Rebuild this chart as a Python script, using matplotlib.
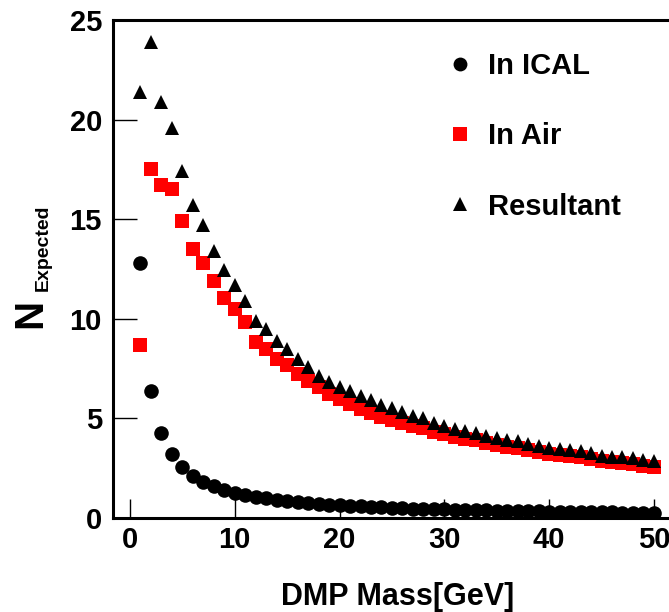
import matplotlib
matplotlib.use("Agg")
import matplotlib.pyplot as plt

plt.rcParams['font.family'] = ['Liberation Sans', 'DejaVu Sans']
plt.rcParams['font.weight'] = 'bold'

mass = [1, 2, 3, 4, 5, 6, 7, 8, 9, 10,
        11, 12, 13, 14, 15, 16, 17, 18, 19, 20,
        21, 22, 23, 24, 25, 26, 27, 28, 29, 30,
        31, 32, 33, 34, 35, 36, 37, 38, 39, 40,
        41, 42, 43, 44, 45, 46, 47, 48, 49, 50]

in_ical = [12.8, 6.4, 4.27, 3.2, 2.56, 2.13, 1.83, 1.6, 1.42, 1.28,
           1.16, 1.07, 0.98, 0.91, 0.85, 0.8, 0.75, 0.71, 0.67, 0.64,
           0.61, 0.58, 0.56, 0.53, 0.51, 0.49, 0.47, 0.46, 0.44, 0.43,
           0.41, 0.4, 0.39, 0.38, 0.37, 0.36, 0.35, 0.34, 0.33, 0.32,
           0.31, 0.3, 0.3, 0.29, 0.28, 0.28, 0.27, 0.27, 0.26, 0.26]

in_air = [8.7, 17.5, 16.7, 16.5, 14.9, 13.5, 12.8, 11.9, 11.05, 10.5,
          9.85, 8.85, 8.5, 8.0, 7.7, 7.25, 6.9, 6.6, 6.25, 5.95,
          5.7, 5.45, 5.25, 5.05, 4.9, 4.75, 4.6, 4.5, 4.3, 4.2,
          4.05, 3.95, 3.9, 3.75, 3.65, 3.55, 3.5, 3.4, 3.3, 3.2,
          3.15, 3.1, 3.05, 2.95, 2.85, 2.8, 2.75, 2.7, 2.62, 2.55]

resultant = [21.4, 23.9, 20.9, 19.6, 17.4, 15.7, 14.7, 13.4, 12.45, 11.7,
             10.9, 9.9, 9.5, 8.9, 8.5, 8.0, 7.6, 7.15, 6.85, 6.6,
             6.4, 6.1, 5.9, 5.65, 5.5, 5.3, 5.1, 5.0, 4.75, 4.62,
             4.45, 4.35, 4.28, 4.13, 4.02, 3.92, 3.86, 3.72, 3.62, 3.53,
             3.46, 3.41, 3.36, 3.26, 3.13, 3.08, 3.04, 2.99, 2.92, 2.88]

x_ticks = [0, 10, 20, 30, 40, 50]
y_ticks = [0, 5, 10, 15, 20, 25]
labels = ["In ICAL", "In Air", "Resultant"]

W, H = 669, 612
fig = plt.figure(figsize=(W / 100, H / 100), dpi=100)
ax = fig.add_axes([113 / W, 94 / H, 565 / W, 498 / H])

ax.plot(mass, in_ical, linestyle='none', marker='o', markersize=10.5,
        color='black', markeredgewidth=0, label=labels[0])
ax.plot(mass, in_air, linestyle='none', marker='s', markersize=10.0,
        color='#ff0000', markeredgewidth=0, label=labels[1])
ax.plot(mass, resultant, linestyle='none', marker='^', markersize=10.5,
        color='black', markeredgewidth=0, label=labels[2])

ax.set_xlim(-1.62, 52.3)
ax.set_ylim(0, 25)
ax.set_xticks(x_ticks)
ax.set_yticks(y_ticks)
ax.set_xticklabels([str(v) for v in x_ticks])
ax.set_yticklabels([str(v) for v in y_ticks])

for s in ['left', 'top', 'bottom', 'right']:
    ax.spines[s].set_linewidth(2.2)

ax.tick_params(axis='y', direction='in', length=17, width=1.0,
               labelsize=21, pad=8, left=True, right=False)
ax.tick_params(axis='x', direction='in', length=14, width=1.0,
               labelsize=21, pad=6, bottom=True, top=False)
for lab in ax.get_xticklabels() + ax.get_yticklabels():
    lab.set_fontweight('bold')

leg = ax.legend(loc='upper left', bbox_to_anchor=(446 / W, 1 - 52 / H),
                bbox_transform=fig.transFigure, frameon=False,
                prop={'size': 21, 'weight': 'bold'}, numpoints=1,
                handlelength=0.95, handletextpad=0.5, labelspacing=1.45,
                borderpad=0, borderaxespad=0, markerscale=0.95)

fig.text(398 / W, 1 - 597 / H, "DMP Mass[GeV]", ha='center', va='center',
         fontsize=22, fontweight='bold')
fig.text(30 / W, 1 - 313 / H, "N", ha='center', va='center', rotation=90,
         fontsize=29, fontweight='bold')
fig.text(43 / W, 1 - 248 / H, "Expected", ha='center', va='center',
         rotation=90, fontsize=14, fontweight='bold')

fig.savefig("out.png", dpi=100)
